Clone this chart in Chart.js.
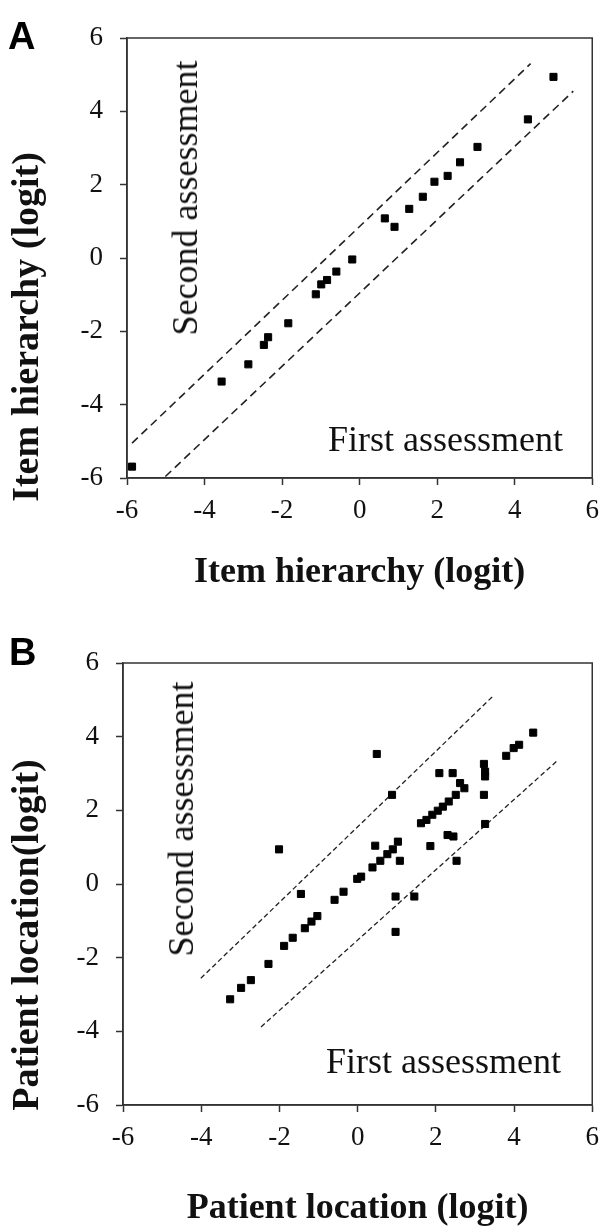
<!DOCTYPE html>
<html>
<head>
<meta charset="utf-8">
<script src="https://cdn.jsdelivr.net/npm/chart.js@4.4.1/dist/chart.umd.min.js"></script>
<style>
  html, body { margin: 0; padding: 0; background: #fff; }
  body { width: 609px; height: 1227px; position: relative; overflow: hidden; }
  .panel { position: absolute; left: 0; width: 609px; }
  #panel-a { top: 0; height: 605px; }
  #panel-b { top: 600px; height: 627px; }
  .txt { position: absolute; white-space: nowrap; line-height: 1; color: #111; }
  .letter { font: bold 38px "Liberation Sans", Arial, sans-serif; color: #000; }
  .ytitle { font: bold 38px "Liberation Serif", "Times New Roman", serif; transform: translate(-50%, -50%) rotate(-90deg); }
  .note { font: 36px "Liberation Serif", "Times New Roman", serif; }
  .note.rot { transform: translate(-50%, -50%) rotate(-90deg); }
</style>
</head>
<body>
<div class="panel" id="panel-a"><canvas id="chart-a"></canvas></div>
<div class="panel" id="panel-b"><canvas id="chart-b"></canvas></div>

<div class="txt letter" style="left:8px; top:15px;">A</div>
<div class="txt letter" style="left:9px; top:631px;">B</div>

<div class="txt ytitle" style="left:25px; top:327px;">Item hierarchy (logit)</div>
<div class="txt ytitle" style="left:25px; top:935px;">Patient location(logit)</div>

<div class="txt note rot" style="left:185px; top:198px;">Second assessment</div>
<div class="txt note" style="left:328px; top:418px;">First assessment</div>
<div class="txt note rot" style="left:181px; top:819px;">Second assessment</div>
<div class="txt note" style="left:326px; top:1040px;">First assessment</div>

<script>
// ── Data ──
const TICKS = [-6, -4, -2, 0, 2, 4, 6];

// Panel A: item hierarchy, first (x) vs second (y) assessment
const itemFirst  = [-5.87, -3.56, -2.87, -2.47, -2.36, -1.84, -1.13, -0.99, -0.84, -0.60, -0.19,
                     0.65,  0.90,  1.28,  1.63,  1.93,  2.27,  2.59,  3.04,  4.34,  5.00];
const itemSecond = [-5.69, -3.37, -2.90, -2.37, -2.16, -1.78, -0.99, -0.72, -0.60, -0.37, -0.04,
                     1.08,  0.85,  1.34,  1.67,  2.08,  2.24,  2.61,  3.03,  3.78,  4.94];
const itemUpperX = [-5.87, 4.41];
const itemUpperY = [-5.05, 5.30];
const itemLowerX = [-5.01, 5.51];
const itemLowerY = [-5.96, 4.55];

// Panel B: patient location, first (x) vs second (y) assessment
const patFirst  = [-3.26, -2.98, -2.73, -2.28, -2.01, -1.88, -1.66, -1.45, -1.35, -1.18, -1.03,
                   -0.59, -0.36, -0.01,  0.09,  0.38,  0.45,  0.49,  0.58,  0.76,  0.88,  0.90,
                    0.97,  0.97,  1.03,  1.08,  1.45,  1.62,  1.76,  1.86,  1.91,  2.05,  2.09,
                    2.18,  2.30,  2.33,  2.43,  2.45,  2.51,  2.53,  2.62,  2.73,  3.23,  3.26,
                    3.26,  3.23,  3.26,  3.80,  3.99,  4.13,  4.49];
const patSecond = [-3.13, -2.82, -2.61, -2.17,  0.94, -1.68, -1.46, -0.27, -1.20, -1.02, -0.87,
                   -0.43, -0.21,  0.14,  0.20,  0.45,  1.04,  3.53,  0.63,  0.81,  2.42,  0.94,
                   -0.34, -1.30,  1.15,  0.63, -0.34,  1.65,  1.74,  1.03,  1.88,  1.99,  3.01,
                    2.10,  1.33,  2.24,  3.01,  1.29,  2.42,  0.63,  2.74,  2.60,  3.26,  3.05,
                    2.92,  2.42,  1.63,  3.48,  3.69,  3.78,  4.11];
const patUpperX = [-4.01, 3.47];
const patUpperY = [-2.56, 5.11];
const patLowerX = [-2.47, 5.13];
const patLowerY = [-3.88, 3.37];

// ── Helpers ──
const toPoints = (xs, ys) => xs.map((x, i) => ({ x, y: ys[i] }));

const framePlugin = {
  id: 'frame',
  afterDatasetsDraw(chart) {
    const { ctx, chartArea: a } = chart;
    ctx.save();
    ctx.strokeStyle = '#333';
    ctx.lineWidth = 1.5;
    ctx.strokeRect(a.left, a.top, a.right - a.left, a.bottom - a.top);
    ctx.restore();
  }
};

function makeChart(id, cfg) {
  const tickFont = { family: '"Liberation Serif", "Times New Roman", serif', size: 27 };
  const axisCommon = {
    type: 'linear',
    min: -6,
    max: 6,
    afterBuildTicks: s => { s.ticks = TICKS.map(v => ({ value: v })); },
    grid: { drawOnChartArea: false, tickLength: 7, tickColor: '#333', tickWidth: 1.5 },
    border: { color: '#333', width: 1.5 },
    ticks: { font: tickFont, color: '#111', maxRotation: 0, autoSkip: false }
  };

  return new Chart(document.getElementById(id), {
    type: 'scatter',
    data: {
      datasets: [
        {
          data: toPoints(cfg.xs, cfg.ys),
          pointStyle: 'rect',
          pointRadius: 5,
          backgroundColor: '#000',
          borderColor: '#000',
          borderWidth: 1
        },
        {
          data: toPoints(cfg.upX, cfg.upY),
          showLine: true,
          pointRadius: 0,
          borderColor: '#222',
          borderWidth: cfg.dashWidth,
          borderDash: cfg.dash
        },
        {
          data: toPoints(cfg.loX, cfg.loY),
          showLine: true,
          pointRadius: 0,
          borderColor: '#222',
          borderWidth: cfg.dashWidth,
          borderDash: cfg.dash
        }
      ]
    },
    options: {
      responsive: true,
      maintainAspectRatio: false,
      animation: false,
      layout: { padding: { top: cfg.padTop, right: cfg.padRight, left: 0, bottom: 0 } },
      plugins: { legend: { display: false }, tooltip: { enabled: false } },
      scales: {
        x: {
          ...axisCommon,
          position: 'bottom',
          ticks: { ...axisCommon.ticks, padding: 10 },
          title: {
            display: true,
            text: cfg.xTitle,
            color: '#111',
            font: { family: '"Liberation Serif", "Times New Roman", serif', size: 36, weight: 'bold', lineHeight: 1 },
            padding: { top: 0, bottom: cfg.titlePad }
          },
          afterFit: s => { s.height = cfg.xHeight; }
        },
        y: {
          ...axisCommon,
          position: 'left',
          ticks: { ...axisCommon.ticks, padding: 17 },
          afterFit: s => { s.width = cfg.yWidth; }
        }
      }
    },
    plugins: [framePlugin]
  });
}

// ── Init ──
makeChart('chart-a', {
  xs: itemFirst, ys: itemSecond,
  upX: itemUpperX, upY: itemUpperY, loX: itemLowerX, loY: itemLowerY,
  dash: [8, 5], dashWidth: 1.6,
  padTop: 38, padRight: 9, xHeight: 127, yWidth: 127, titlePad: 14,
  xTitle: 'Item hierarchy (logit)'
});

makeChart('chart-b', {
  xs: patFirst, ys: patSecond,
  upX: patUpperX, upY: patUpperY, loX: patLowerX, loY: patLowerY,
  dash: [5, 3], dashWidth: 1.3,
  padTop: 63, padRight: 6, xHeight: 122, yWidth: 123, titlePad: 0,
  xTitle: 'Patient location (logit)'
});
</script>
</body>
</html>
